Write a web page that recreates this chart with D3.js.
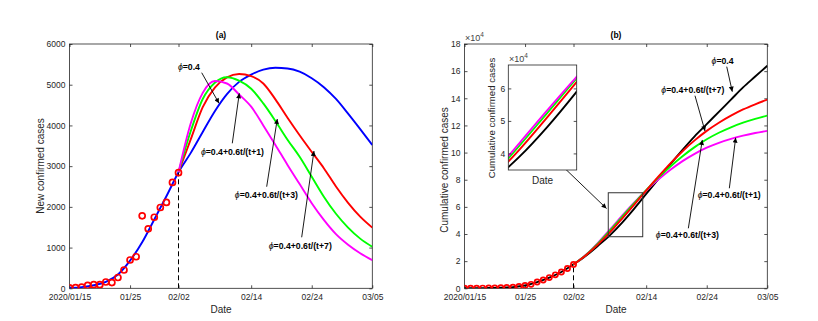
<!DOCTYPE html>
<html><head><meta charset="utf-8">
<script src="https://cdn.jsdelivr.net/npm/d3@7"></script>
<style>
body{margin:0;background:#fff;}
svg{display:block;font-family:"Liberation Sans",Arial,Helvetica,sans-serif;}
</style></head><body>
<svg id="chart" width="818" height="321"></svg>
<script>
// ---------------- data ----------------
const dateTicks  = [0, 10, 18, 30, 40, 50];
const dateLabels = ["2020/01/15", "01/25", "02/02", "02/14", "02/24", "03/05"];
const newTicks   = [0, 1000, 2000, 3000, 4000, 5000, 6000];
const cumTicks   = [0, 2, 4, 6, 8, 10, 12, 14, 16, 18];
const insetTicks = [4, 5, 6];

const obsDays = [0,1,2,3,4,5,6,7,8,9,10,11,12,13,14,15,16,17,18];
const newObs  = [10,15,30,70,90,90,155,140,265,450,695,775,1780,1460,1745,1985,2110,2600,2840];
const cumObs  = [0.005,0.006,0.008,0.013,0.021,0.03,0.045,0.058,0.085,0.13,0.21,0.29,0.46,0.61,0.79,0.99,1.2,1.46,1.76]; // x10^4

const fitDays = [0,2,4,6,8,10,12,14,16];
const newFit  = [10,30,75,160,340,680,1130,1690,2260];
const cumFit  = [0.005,0.008,0.02,0.045,0.09,0.21,0.46,0.79,1.2];

const predDays = [18,20,22,24,26,28,30,32,34,36,38,40,42,44,46,48,50];
const newPhi04 = [2850,3320,3840,4350,4770,5070,5250,5370,5415,5400,5320,5160,4940,4650,4290,3910,3520];
const newT7    = [2850,3650,4450,4930,5180,5265,5210,5030,4640,4190,3760,3350,2950,2500,2100,1760,1490];
const newT3    = [2850,3850,4650,5050,5185,5100,4900,4540,4110,3650,3230,2740,2250,1830,1490,1220,1020];
const newT1    = [2850,4040,4800,5090,5030,4760,4460,4000,3520,3030,2560,2090,1680,1330,1070,860,690];

const cumPhi04 = [1.76,2.38,3.12,3.9,4.82,5.85,6.95,8.05,9.15,10.2,11.2,12.1,13.0,13.9,14.8,15.6,16.4];
const cumT7    = [1.76,2.42,3.22,4.12,5.12,6.15,7.2,8.22,9.2,10.1,10.9,11.6,12.2,12.72,13.18,13.56,13.9];
const cumT3    = [1.76,2.43,3.28,4.24,5.25,6.26,7.24,8.15,8.98,9.73,10.4,10.98,11.46,11.86,12.2,12.48,12.72];
const cumT1    = [1.76,2.45,3.33,4.32,5.33,6.31,7.21,8.01,8.73,9.37,9.91,10.36,10.72,11.01,11.25,11.44,11.6];

const labelT1 = "=0.4+0.6t/(t+1)";
const labelT3 = "=0.4+0.6t/(t+3)";
const labelT7 = "=0.4+0.6t/(t+7)";
const label04 = "=0.4";

// annotations (data units: day, value)
const annNew = [
  {text: label04, tx: 17.9, ty: 5361, x0: 21.83, y0: 5295, x1: 24.69, y1: 4544},
  {text: labelT1, tx: 21.7, ty: 3274, x0: 26.88, y0: 3561, x1: 28.04, y1: 4789},
  {text: labelT3, tx: 27.3, ty: 2230, x0: 32.56, y0: 2495, x1: 34.31, y1: 4158},
  {text: labelT7, tx: 32.9, ty: 977,  x0: 38.34, y0: 1253, x1: 40.37, y1: 3372}
];
const annCum = [
  {text: label04, tx: 40.8, ty: 16.53, x0: 43.3,  y0: 16.33, x1: 44.22, y1: 14.49},
  {text: labelT7, tx: 32.5, ty: 14.39, x0: 38.06, y0: 14.19, x1: 39.71, y1: 11.59},
  {text: labelT1, tx: 38.5, ty: 6.65,  x0: 43.73, y0: 7.37,  x1: 44.78, y1: 11.1},
  {text: labelT3, tx: 31.6, ty: 3.71,  x0: 36.96, y0: 4.42,  x1: 39.27, y1: 10.93}
];
const zoomRect  = {d0: 23.74, d1: 29.43, v0: 3.80, v1: 7.04};
const zoomArrow = {x0: 16.55, y0: 8.84, x1: 23.45, y1: 5.88};
const insetXDomain = [23.2, 28.1];
const insetYDomain = [3.49, 6.72];

// ---------------- drawing ----------------
const svg = d3.select("#chart");
const INK = "#262626";
svg.append("rect").attr("width",818).attr("height",321).attr("fill","#fff");

const defs = svg.append("defs");
defs.append("marker").attr("id","ah").attr("viewBox","0 0 10 10")
  .attr("refX",10).attr("refY",5).attr("markerWidth",7).attr("markerHeight",5)
  .attr("markerUnits","userSpaceOnUse").attr("orient","auto")
  .append("path").attr("d","M0,0L10,5L0,10Z").attr("fill","#000");

const fmtInt = d3.format("d");
function styleAxis(g) {
  g.select(".domain").remove();
  g.attr("font-family", null).attr("font-size", 8.5).attr("color", INK);
  g.selectAll("line").attr("stroke-width", 0.8);
}

function frame(box, yDomain, yTicks, xTicks, xLabels, clipId) {
  const x = d3.scaleLinear().domain([0,50]).range([box.x0, box.x1]);
  const y = d3.scaleLinear().domain(yDomain).range([box.y0, box.y1]);
  defs.append("clipPath").attr("id", clipId).append("rect")
    .attr("x", box.x0).attr("y", box.y1).attr("width", box.x1-box.x0).attr("height", box.y0-box.y1);
  svg.append("g").attr("transform",`translate(0,${box.y0})`)
    .call(d3.axisBottom(x).tickValues(xTicks).tickFormat((d,i)=>xLabels[i]).tickSize(-3).tickPadding(5.5)).call(styleAxis);
  svg.append("g").attr("transform",`translate(0,${box.y1})`)
    .call(d3.axisTop(x).tickValues(xTicks).tickFormat("").tickSize(-3)).call(styleAxis);
  svg.append("g").attr("transform",`translate(${box.x0},0)`)
    .call(d3.axisLeft(y).tickValues(yTicks).tickFormat(fmtInt).tickSize(-3).tickPadding(4)).call(styleAxis);
  svg.append("g").attr("transform",`translate(${box.x1},0)`)
    .call(d3.axisRight(y).tickValues(yTicks).tickFormat("").tickSize(-3)).call(styleAxis);
  svg.append("rect").attr("x",box.x0).attr("y",box.y1).attr("width",box.x1-box.x0).attr("height",box.y0-box.y1)
    .attr("fill","none").attr("stroke",INK).attr("stroke-width",0.8);
  return {x, y};
}

function line(layer, x, y, days, vals, color, w) {
  const gen = d3.line().x((d,i)=>x(days[i])).y(d=>y(d)).curve(d3.curveMonotoneX);
  layer.append("path").attr("d", gen(vals)).attr("fill","none").attr("stroke",color).attr("stroke-width",w);
}

function annotate(x, y, list) {
  list.forEach(a => {
    svg.append("line").attr("x1",x(a.x0)).attr("y1",y(a.y0)).attr("x2",x(a.x1)).attr("y2",y(a.y1))
      .attr("stroke","#000").attr("stroke-width",0.9).attr("marker-end","url(#ah)");
    const t = svg.append("text").attr("x",x(a.tx)).attr("y",y(a.ty)).attr("font-size",8.7).attr("fill","#000");
    t.append("tspan").attr("font-style","italic").text("\u03d5");
    t.append("tspan").attr("font-weight","bold").text(a.text);
  });
}

function ylabel(txt, cx, cy, size) {
  svg.append("text").attr("transform",`translate(${cx},${cy}) rotate(-90)`).attr("text-anchor","middle")
    .attr("dominant-baseline","central").attr("font-size",size).attr("fill",INK).text(txt);
}
function label(txt, cx, cy, size, bold) {
  svg.append("text").attr("x",cx).attr("y",cy).attr("text-anchor","middle").attr("font-size",size)
    .attr("font-weight", bold ? "bold" : null).attr("fill", bold ? "#000" : INK).text(txt);
}

// ----- Panel (a) -----
const A = frame({x0:69.5, x1:372.3, y0:288.3, y1:44}, [0,6000], newTicks, dateTicks, dateLabels, "clipA");
const gA = svg.append("g").attr("clip-path","url(#clipA)");
line(gA, A.x, A.y, fitDays.concat(predDays), newFit.concat(newPhi04), "#0000ff", 1.9);
line(gA, A.x, A.y, predDays, newT7, "#ff0000", 1.9);
line(gA, A.x, A.y, predDays, newT3, "#00ff00", 1.9);
line(gA, A.x, A.y, predDays, newT1, "#ff00ff", 1.9);
gA.append("line").attr("x1",A.x(18)).attr("x2",A.x(18)).attr("y1",A.y(0)).attr("y2",A.y(newObs[18]))
  .attr("stroke","#000").attr("stroke-width",1).attr("stroke-dasharray","5,3");
gA.selectAll("circle.o").data(newObs).join("circle").attr("class","o")
  .attr("cx",(d,i)=>A.x(obsDays[i])).attr("cy",d=>A.y(d)).attr("r",3)
  .attr("fill","none").attr("stroke","#ff0000").attr("stroke-width",1.7);
annotate(A.x, A.y, annNew);
label("(a)", 221, 38, 8.5, true);
label("Date", 221, 313, 10, false);
ylabel("New confirmed cases", 40, 166, 10);

// ----- Panel (b) -----
const B = frame({x0:464.5, x1:767.3, y0:288.3, y1:44}, [0,18], cumTicks, dateTicks, dateLabels, "clipB");
const gB = svg.append("g").attr("clip-path","url(#clipB)");
line(gB, B.x, B.y, fitDays.concat(predDays), cumFit.concat(cumPhi04), "#000000", 1.9);
line(gB, B.x, B.y, predDays, cumT1, "#ff00ff", 1.9);
line(gB, B.x, B.y, predDays, cumT3, "#00ff00", 1.9);
line(gB, B.x, B.y, predDays, cumT7, "#ff0000", 1.9);
gB.append("line").attr("x1",B.x(18)).attr("x2",B.x(18)).attr("y1",B.y(0)).attr("y2",B.y(cumObs[18]))
  .attr("stroke","#000").attr("stroke-width",1).attr("stroke-dasharray","5,3");
gB.selectAll("circle.o").data(cumObs).join("circle").attr("class","o")
  .attr("cx",(d,i)=>B.x(obsDays[i])).attr("cy",d=>B.y(d)).attr("r",2.6)
  .attr("fill","none").attr("stroke","#ff0000").attr("stroke-width",1.7);
// zoom rectangle
svg.append("rect").attr("x",B.x(zoomRect.d0)).attr("y",B.y(zoomRect.v1))
  .attr("width",B.x(zoomRect.d1)-B.x(zoomRect.d0)).attr("height",B.y(zoomRect.v0)-B.y(zoomRect.v1))
  .attr("fill","none").attr("stroke","#333").attr("stroke-width",1);
annotate(B.x, B.y, annCum);
svg.append("line").attr("x1",B.x(zoomArrow.x0)).attr("y1",B.y(zoomArrow.y0)).attr("x2",B.x(zoomArrow.x1)).attr("y2",B.y(zoomArrow.y1))
  .attr("stroke","#000").attr("stroke-width",0.9).attr("marker-end","url(#ah)");
// x10^4
const e4 = svg.append("text").attr("x",465).attr("y",41).attr("font-size",9).attr("fill","#444");
e4.append("tspan").text("\u00d710");
e4.append("tspan").attr("dy",-4).attr("font-size",6.5).text("4");
label("(b)", 616, 38, 8.5, true);
label("Date", 616, 313, 10, false);
ylabel("Cumulative confirmed cases", 444.7, 170, 10);

// ----- inset -----
const ib = {x0:508.3, x1:576.7, y0:170, y1:65};
const xi = d3.scaleLinear().domain(insetXDomain).range([ib.x0, ib.x1]);
const yi = d3.scaleLinear().domain(insetYDomain).range([ib.y0, ib.y1]);
svg.append("rect").attr("x",ib.x0).attr("y",ib.y1).attr("width",ib.x1-ib.x0).attr("height",ib.y0-ib.y1).attr("fill","#fff");
defs.append("clipPath").attr("id","clipI").append("rect")
  .attr("x",ib.x0).attr("y",ib.y1).attr("width",ib.x1-ib.x0).attr("height",ib.y0-ib.y1);
const gI = svg.append("g").attr("clip-path","url(#clipI)");
line(gI, xi, yi, predDays, cumPhi04, "#000000", 1.9);
line(gI, xi, yi, predDays, cumT7, "#ff0000", 1.9);
line(gI, xi, yi, predDays, cumT3, "#00ff00", 1.9);
line(gI, xi, yi, predDays, cumT1, "#ff00ff", 1.9);
ylabel("Cumulative confirmed cases", 491, 118, 9.6);
svg.append("g").attr("transform",`translate(${ib.x0},0)`)
  .call(d3.axisLeft(yi).tickValues(insetTicks).tickFormat(fmtInt).tickSize(-3).tickPadding(3)).call(styleAxis);
svg.append("g").attr("transform",`translate(${ib.x1},0)`)
  .call(d3.axisRight(yi).tickValues(insetTicks).tickFormat("").tickSize(-3)).call(styleAxis);
svg.append("rect").attr("x",ib.x0).attr("y",ib.y1).attr("width",ib.x1-ib.x0).attr("height",ib.y0-ib.y1)
  .attr("fill","none").attr("stroke",INK).attr("stroke-width",0.8);
const e4i = svg.append("text").attr("x",509).attr("y",62).attr("font-size",9).attr("fill","#444");
e4i.append("tspan").text("\u00d710");
e4i.append("tspan").attr("dy",-4).attr("font-size",6.5).text("4");
label("Date", 542.5, 184, 10, false);
</script>
</body></html>
